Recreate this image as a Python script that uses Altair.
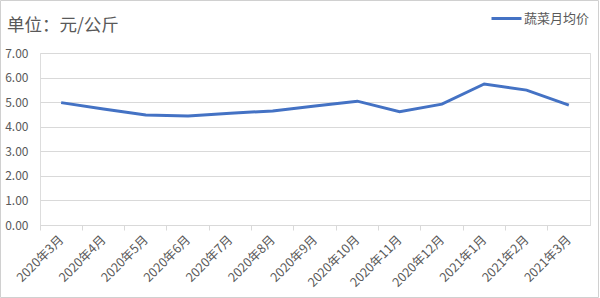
import altair as alt
import pandas as pd

months = ["2020年3月", "2020年4月", "2020年5月", "2020年6月", "2020年7月", "2020年8月",
          "2020年9月", "2020年10月", "2020年11月", "2020年12月", "2021年1月", "2021年2月", "2021年3月"]
prices = [4.98, 4.72, 4.48, 4.44, 4.55, 4.64, 4.84, 5.04, 4.61, 4.92, 5.74, 5.49, 4.88]
series = ["蔬菜月均价"] * len(months)

df = pd.DataFrame({"month": months, "price": prices, "series": series})

FONT = "Noto Sans CJK SC"
GRAY = "#595959"

line = alt.Chart(df).mark_line(strokeWidth=3).encode(
    x=alt.X("month:N", sort=months, title=None, bandPosition=0.5,
            scale=alt.Scale(type="band", paddingInner=0, paddingOuter=0),
            axis=alt.Axis(labelAngle=-45, labelAlign="right", labelBaseline="top",
                          labelFontSize=12.5, labelColor=GRAY, labelFont=FONT,
                          domainColor="#d9d9d9", tickColor="#d9d9d9", tickSize=5,
                          bandPosition=0, ticks=True, grid=False, labelPadding=3,
                          labelOffset=-4)),
    y=alt.Y("price:Q", title=None, scale=alt.Scale(domain=[0, 7]),
            axis=alt.Axis(values=[0, 1, 2, 3, 4, 5, 6, 7], format=".2f",
                          domain=False, ticks=False, gridColor="#d9d9d9",
                          labelFontSize=12, labelColor=GRAY, labelFont=FONT,
                          labelPadding=12, labelAlign="right")),
    color=alt.Color("series:N", scale=alt.Scale(range=["#4472C4"]),
                    legend=alt.Legend(title=None, orient="none", legendX=450, legendY=-51,
                                      symbolType="stroke", symbolSize=900,
                                      symbolStrokeWidth=3, labelFontSize=13,
                                      labelColor=GRAY, labelFont=FONT, labelOffset=1)),
)

border = alt.Chart(pd.DataFrame({"a": [0]})).mark_rect(
    fill=None, stroke="#d0d0d0", strokeWidth=1
).encode(x=alt.value(-39.5), x2=alt.value(558.5), y=alt.value(-52.5), y2=alt.value(244.5))

chart = alt.layer(line, border).properties(
    width=550, height=172,
    title=alt.TitleParams("单位：元/公斤", anchor="start", fontSize=17.5, font=FONT,
                          fontWeight="normal", color=GRAY, dx=7, dy=48, offset=14),
    autosize=alt.AutoSizeParams(type="none"),
    padding={"left": 40, "top": 53, "right": 10, "bottom": 73},
).configure_view(stroke=None).configure(background="white")

chart.save("out.html", embed_options={"renderer": "svg", "actions": False})
